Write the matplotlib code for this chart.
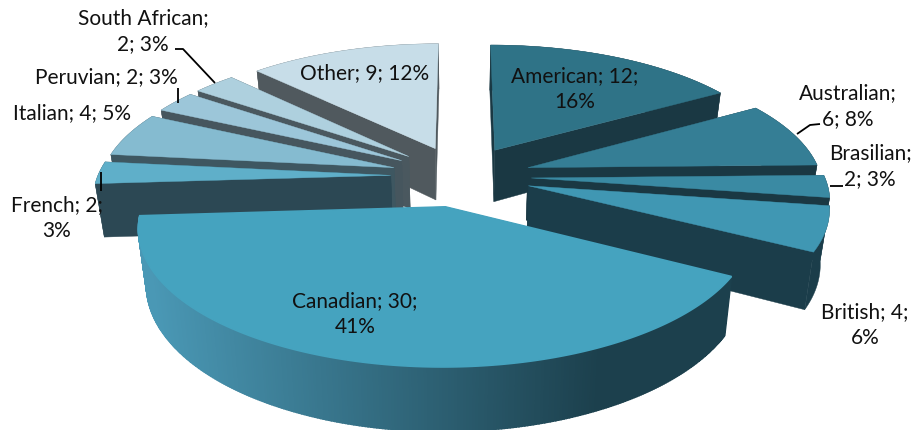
import numpy as np
import matplotlib
matplotlib.use('Agg')
import matplotlib.pyplot as plt
from matplotlib.patches import Polygon

plt.rcParams['font.family'] = ['Lato', 'DejaVu Sans']

categories = ['American', 'Australian', 'Brasilian', 'British', 'Canadian',
              'French', 'Italian', 'Peruvian', 'South African', 'Other']
values = [12, 6, 2, 4, 30, 2, 4, 2, 2, 9]
percents = [16, 8, 3, 6, 41, 3, 5, 3, 3, 12]

top_colors = ['#2F7387', '#357E95', '#3A8AA3', '#4097B3', '#45A3BF',
              '#5FAFC9', '#85BBD0', '#9CC6D9', '#AED0DE', '#C7DDE8']
wall_colors = ['#1A3843', '#1A3843', '#1A3843', '#1B3D4A', '#1C404D',
               '#2C4854', '#3E5761', '#46565E', '#4A585F', '#50595E']

# where the line break falls in each label, and label centre in pixels
label_breaks = ['value', 'name', 'name', 'value', 'value',
                'value', 'none', 'none', 'name', 'none']
label_pos = [(575, 89), (848, 106), (870, 166), (865, 325), (355, 314),
             (57, 218), (72, 113), (106, 77), (143, 31), (365, 73)]

# fake 3D view, fitted to the picture
X0, Y0 = 461, 176
SX, SY = 293, 127.2
PERSP = 0.144
EXPLODE = 0.24
DEPTH = 53
SHRINK = 0.975

# back to front, so nearer slices paint over the others
draw_order = [9, 0, 8, 7, 6, 5, 1, 2, 3, 4]


def top_xy(x, y):
    d = 1 + PERSP * y
    return X0 + SX * x / d, Y0 - SY * y / d


def bottom_xy(x, y):
    d = 1 + PERSP * y
    return X0 + SHRINK * SX * x / d, Y0 - SY * y / d + DEPTH / d


def mix(c1, c2, t):
    a = np.array(matplotlib.colors.to_rgb(c1))
    b = np.array(matplotlib.colors.to_rgb(c2))
    return tuple(a + (b - a) * t)


fig = plt.figure(figsize=(9.13, 4.3), dpi=100)
ax = fig.add_axes([0, 0, 1, 1])
ax.set_xlim(0, 913)
ax.set_ylim(430, 0)
ax.axis('off')

edges = np.cumsum([0] + values) / sum(values) * 2 * np.pi

for i in draw_order:
    a0, a1 = edges[i], edges[i + 1]
    mid = (a0 + a1) / 2
    ox, oy = EXPLODE * np.sin(mid), EXPLODE * np.cos(mid)
    th = np.linspace(a0, a1, 300)
    px = ox + np.sin(th)
    py = oy + np.cos(th)
    tx, ty = top_xy(px, py)
    bx, by = bottom_xy(px, py)
    tipt = top_xy(ox, oy)
    tipb = bottom_xy(ox, oy)

    # the two flat cut faces
    for k in [0, -1]:
        wall = [tipt, (tx[k], ty[k]), (bx[k], by[k]), tipb]
        ax.add_patch(Polygon(wall, fc=wall_colors[i], ec=wall_colors[i], lw=0.3))

    # outer rim, Canadian fades from light on the left to dark on the right
    if categories[i] == 'Canadian':
        for k in range(len(th) - 1):
            t = np.clip((tx[k] - 150) / 450, 0, 1)
            c = mix('#4A98B5', wall_colors[i], t)
            quad = [(tx[k], ty[k]), (tx[k + 1], ty[k + 1]),
                    (bx[k + 1], by[k + 1]), (bx[k], by[k])]
            ax.add_patch(Polygon(quad, fc=c, ec=c, lw=1.2))
    else:
        rim = list(zip(tx, ty)) + list(zip(bx[::-1], by[::-1]))
        ax.add_patch(Polygon(rim, fc=wall_colors[i], ec=wall_colors[i], lw=0.3))

    face = [tipt] + list(zip(tx, ty))
    lw = 1.2 if categories[i] == 'Canadian' else 0.3
    ax.add_patch(Polygon(face, fc=top_colors[i], ec=top_colors[i], lw=lw))

# leader lines
leaders = [[(175, 49), (183, 49), (215, 83)],
           [(178, 88), (178, 103)],
           [(101, 172), (101, 191)],
           [(820, 124), (810, 125), (797, 134)],
           [(830, 186), (843, 186)]]
for line in leaders:
    xs, ys = zip(*line)
    ax.plot(xs, ys, color='black', lw=1.3, solid_capstyle='butt')

for name, v, p, brk, pos in zip(categories, values, percents, label_breaks, label_pos):
    if brk == 'name':
        txt = f'{name};\n{v}; {p}%'
    elif brk == 'value':
        txt = f'{name}; {v};\n{p}%'
    else:
        txt = f'{name}; {v}; {p}%'
    ax.text(pos[0], pos[1], txt, ha='center', va='center', fontsize=15,
            color='#111111', linespacing=1.33)

fig.savefig('out.png', dpi=100)
